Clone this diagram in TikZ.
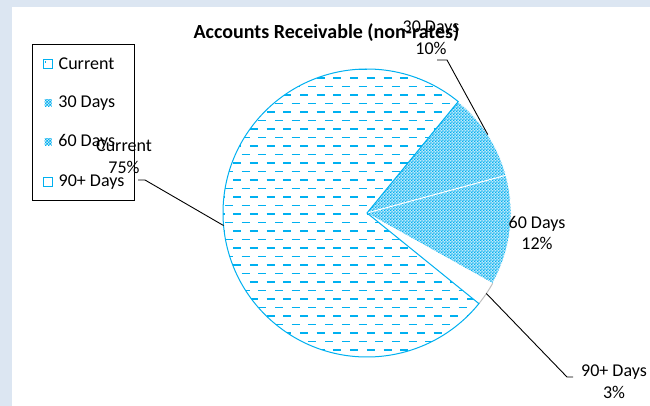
\documentclass[tikz,border=0pt]{standalone}
\usepackage{fontspec}
\setmainfont{Carlito}
\usetikzlibrary{positioning,calc,patterns}

\definecolor{chartblue}{RGB}{0,176,240}
\definecolor{paleblue}{RGB}{190,232,250}
\definecolor{framebg}{RGB}{220,230,242}

% small checks for the 30/60 day slices
\pgfdeclarepatternformonly{finecheck}{\pgfpointorigin}{\pgfqpoint{2.8pt}{2.8pt}}{\pgfqpoint{2.8pt}{2.8pt}}{%
  \pgfpathrectangle{\pgfpointorigin}{\pgfqpoint{1.4pt}{1.4pt}}%
  \pgfpathrectangle{\pgfqpoint{1.4pt}{1.4pt}}{\pgfqpoint{1.4pt}{1.4pt}}%
  \pgfusepath{fill}}

\begin{document}
\begin{tikzpicture}[x=1pt, y=1pt,
    lbl/.style={align=center, inner sep=0pt, font=\fontsize{18}{21.6}\selectfont},
    leader/.style={draw=black, line width=0.9pt},
    keybox/.style={draw=chartblue, line width=1pt, fill=white, minimum size=9pt, inner sep=0pt},
    keychk/.style={pattern=finecheck, pattern color=chartblue, preaction={fill=paleblue}, minimum size=7pt, inner sep=0pt},
    keytext/.style={inner sep=0pt, font=\fontsize{18}{21.6}\selectfont},
    chk/.style={pattern=finecheck, pattern color=chartblue, preaction={fill=paleblue}}
]
% chart area
\fill[framebg] (0,0) rectangle (650,406);
\fill[white] (12,0) rectangle (650,399);
\useasboundingbox (0,0) rectangle (650,406);

\coordinate (ctr) at (367,193);
\def\rad{144}

% 30 Days and 60 Days slices
\fill[chk] (ctr) -- ($(ctr)+(50.7:\rad)$) arc[start angle=50.7, end angle=-29.2, radius=\rad] -- cycle;
\draw[white, line width=1pt] (ctr) -- ($(ctr)+(15.2:\rad)$);
\draw[white, line width=0.8pt] ($(ctr)+(50.7:\rad)$) arc[start angle=50.7, end angle=-29.2, radius=\rad];

% 90+ Days slice
\fill[white] (ctr) -- ($(ctr)+(-29.2:\rad)$) arc[start angle=-29.2, end angle=-39, radius=\rad] -- cycle;
\draw[black!25, line width=1pt] ($(ctr)+(-29.2:\rad)$) arc[start angle=-29.2, end angle=-39, radius=\rad];

% Current slice, dashed fill
\begin{scope}
  \clip (ctr) -- ($(ctr)+(-39:\rad)$) arc[start angle=-39, end angle=-309.3, radius=\rad] -- cycle;
  \foreach \i in {0,...,34}{
    \pgfmathsetmacro{\yy}{336.3-8.5*\i}
    \ifodd\i
      \draw[chartblue, line width=2.4pt, dash pattern=on 8pt off 8.7pt] (216.5,\yy) -- (520,\yy);
    \else
      \draw[chartblue, line width=1.2pt, dash pattern=on 8pt off 8.7pt] (208.2,\yy) -- (520,\yy);
    \fi
  }
\end{scope}
\draw[chartblue, line width=1pt] (ctr) -- ($(ctr)+(-39:\rad)$) arc[start angle=-39, end angle=-309.3, radius=\rad] -- cycle;

% Title
\node[inner sep=0pt, font=\bfseries\fontsize{20}{24}\selectfont] (title) at (326.5,373) {Accounts Receivable (non-rates)};

% Legend
\node[draw=black, line width=1pt, fill=white, minimum width=102pt, minimum height=156pt, inner sep=0pt] (legend) at (83,283.3) {};
\node[keybox] (kcur) at (48,342) {};
\draw[chartblue, line width=1pt] (45.5,345) -- (45.5,343);
\node[keytext, right=5.5pt of kcur] (tcur) {Current};
\node[keychk] (k30) at (48,303) {};
\node[keytext, right=6.5pt of k30] (t30) {30 Days};
\node[keychk] (k60) at (48,264) {};
\node[keytext, right=6.5pt of k60] (t60) {60 Days};
\node[keybox] (k90) at (48,224) {};
\node[keytext, right=5.5pt of k90] (t90) {90+ Days};

% Data labels
\node[lbl] (l30) at (431,368) {30 Days\\10\%};
\node[lbl] (lcur) at (124,249) {Current\\75\%};
\node[lbl] (l60) at (537,173) {60 Days\\12\%};
\node[lbl] (l90) at (614,24) {90+ Days\\3\%};

% Leader lines
\coordinate (e30) at ($(ctr)+(33:\rad)$);
\coordinate (ecur) at ($(ctr)+(185:\rad)$);
\coordinate (e90) at ($(ctr)+(-34:\rad)$);
\coordinate (s30) at (437,346);
\coordinate (scur) at (138,226);
\coordinate (s90) at (573,29);
\draw[leader] (s30) -- ++(10,0) -- (e30);
\draw[leader] (scur) -- ++(7,0) -- (ecur);
\draw[leader] (s90) -- ++(-6,0) -- (e90);

\end{tikzpicture}
\end{document}
